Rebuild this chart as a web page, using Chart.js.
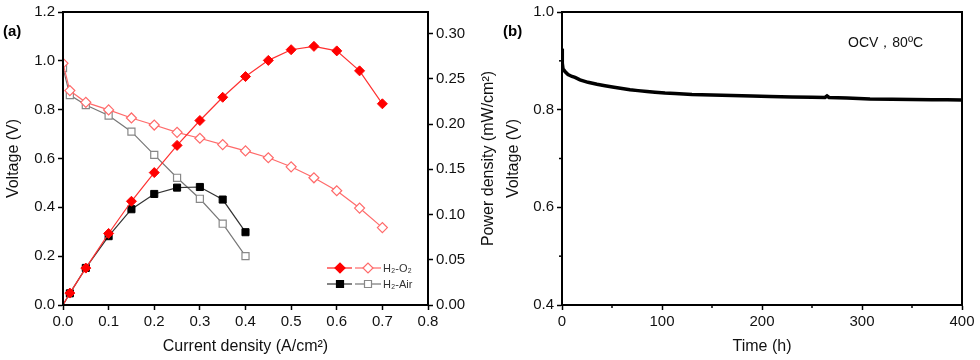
<!DOCTYPE html>
<html>
<head>
<meta charset="utf-8">
<script src="https://cdn.jsdelivr.net/npm/chart.js"></script>
<style>
  html, body { margin: 0; padding: 0; background: #fff; }
  #wrap { position: relative; width: 980px; height: 360px; overflow: hidden; }
  #polar { position: absolute; left: 0; top: 0; }
  #life { position: absolute; left: 500px; top: 0; }
</style>
</head>
<body>
<div id="wrap">
  <canvas id="polar" width="502" height="360"></canvas>
  <canvas id="life" width="480" height="360"></canvas>
</div>
<script>
// (a) polarization data, current density in A/cm2
var currentO2 = [0, 0.015, 0.05, 0.1, 0.15, 0.2, 0.25, 0.3, 0.35, 0.4, 0.45, 0.5, 0.55, 0.6, 0.65, 0.7];
var voltageO2 = [0.99, 0.878, 0.83, 0.799, 0.766, 0.737, 0.707, 0.683, 0.657, 0.631, 0.603, 0.566, 0.521, 0.468, 0.397, 0.317];
var powerO2 = [0, 0.0132, 0.0408, 0.0791, 0.1147, 0.1464, 0.1765, 0.204, 0.2297, 0.2526, 0.2705, 0.2823, 0.286, 0.281, 0.2589, 0.2225];

var currentAir = [0, 0.015, 0.05, 0.1, 0.15, 0.2, 0.25, 0.3, 0.35, 0.4];
var voltageAir = [0.97, 0.86, 0.819, 0.776, 0.71, 0.615, 0.521, 0.435, 0.333, 0.2];
var powerAir = [0, 0.0129, 0.041, 0.0761, 0.1059, 0.1228, 0.1298, 0.1305, 0.1166, 0.0805];

// (b) OCV hold, time in h
var timeH = [0, 0.3, 1, 3, 6, 10, 13, 18, 26, 35, 43, 52, 60, 68, 76, 85, 93, 103, 113, 130, 150, 170, 190, 208, 230, 250, 263, 265, 267, 285, 308, 330, 350, 370, 385, 400];
var ocvVoltage = [0.925, 0.895, 0.884, 0.878, 0.872, 0.868, 0.866, 0.861, 0.856, 0.852, 0.849, 0.846, 0.8435, 0.841, 0.839, 0.837, 0.8355, 0.834, 0.833, 0.831, 0.83, 0.829, 0.828, 0.827, 0.826, 0.8255, 0.825, 0.828, 0.825, 0.824, 0.822, 0.8215, 0.821, 0.8205, 0.8205, 0.82];

var xTicksB = [0, 100, 200, 300, 400];
var xMinorB = [50, 150, 250, 350];
var yMinorB = [0.5, 0.7, 0.9];

var FONT = 'Arial, "Liberation Sans", sans-serif';

function pts(xs, ys) {
    return xs.map(function (x, i) { return {x: x, y: ys[i]}; });
}

var axisGrid = {drawOnChartArea: false, drawTicks: true, tickLength: 5, color: '#000', tickColor: '#000', tickWidth: 1.5};
var axisBorder = {display: true, color: '#000', width: 2};
var tickFont = {family: FONT, size: 15};
var titleFont = {family: FONT, size: 16};

var framePlugin = {
    id: 'frame',
    afterDraw: function (chart) {
        var c = chart.ctx, a = chart.chartArea;
        c.save();
        c.strokeStyle = '#000';
        c.lineWidth = 2;
        c.strokeRect(a.left, a.top, a.right - a.left, a.bottom - a.top);
        c.restore();
    }
};

function marker(c, shape, x, y, fill, stroke) {
    c.beginPath();
    if (shape === 'diamond') {
        c.moveTo(x - 5, y); c.lineTo(x, y - 5); c.lineTo(x + 5, y); c.lineTo(x, y + 5); c.closePath();
    } else {
        c.rect(x - 3.5, y - 3.5, 7, 7);
    }
    c.fillStyle = fill; c.fill();
    c.lineWidth = 1.2; c.strokeStyle = stroke; c.stroke();
}

var legendA = {
    id: 'legendA',
    afterDraw: function (chart) {
        var c = chart.ctx, a = chart.chartArea;
        c.save();
        var rows = [
            {y: 268, shape: 'diamond', l1: '#ff2020', f1: '#ff0000', l2: '#ff6a6a', s2: '#ff6a6a', text: 'H\u2082-O\u2082'},
            {y: 284, shape: 'square', l1: '#333', f1: '#000', l2: '#777', s2: '#888', text: 'H\u2082-Air'}
        ];
        rows.forEach(function (r) {
            c.lineWidth = 1.2;
            c.strokeStyle = r.l1;
            c.beginPath(); c.moveTo(327, r.y); c.lineTo(352, r.y); c.stroke();
            c.strokeStyle = r.l2;
            c.beginPath(); c.moveTo(355, r.y); c.lineTo(381, r.y); c.stroke();
            marker(c, r.shape, 340, r.y, r.f1, r.f1);
            marker(c, r.shape, 368, r.y, '#fff', r.s2);
            c.fillStyle = '#333';
            c.font = '11px ' + FONT;
            c.textBaseline = 'middle';
            c.textAlign = 'left';
            c.fillText(r.text, 383, r.y + 1);
        });
        c.font = 'bold 15px ' + FONT;
        c.fillStyle = '#000';
        c.textBaseline = 'middle';
        c.fillText('(a)', 3, 32);
        // right axis title, read bottom to top like the left one
        c.translate(489, (a.top + a.bottom) / 2);
        c.rotate(-Math.PI / 2);
        c.font = '16px ' + FONT;
        c.fillStyle = '#111';
        c.textAlign = 'center';
        c.fillText('Power density (mW/cm\u00b2)', 0, 0);
        c.restore();
    }
};

var polarChart = new Chart(document.getElementById('polar'), {
    type: 'line',
    data: {
        datasets: [
            {
                data: pts(currentO2, powerO2), yAxisID: 'yP',
                borderColor: '#ff3030', borderWidth: 1.2, backgroundColor: '#ff0000',
                pointStyle: 'rectRot', pointRadius: function (ctx) { return ctx.dataIndex === 0 ? 0 : 5; },
                pointBorderColor: '#ff0000', pointBackgroundColor: '#ff0000', pointBorderWidth: 1
            },
            {
                data: pts(currentO2, voltageO2), yAxisID: 'y',
                borderColor: '#ff6a6a', borderWidth: 1.2,
                pointStyle: 'rectRot', pointRadius: 5,
                pointBorderColor: '#ff6a6a', pointBackgroundColor: '#fff', pointBorderWidth: 1.2
            },
            {
                data: pts(currentAir, powerAir), yAxisID: 'yP',
                borderColor: '#333', borderWidth: 1.2,
                pointStyle: 'rect', pointRadius: function (ctx) { return ctx.dataIndex === 0 ? 0 : 5; },
                pointBorderColor: '#000', pointBackgroundColor: '#000', pointBorderWidth: 1
            },
            {
                data: pts(currentAir, voltageAir), yAxisID: 'y',
                borderColor: '#777', borderWidth: 1.2,
                pointStyle: 'rect', pointRadius: 5,
                pointBorderColor: '#888', pointBackgroundColor: '#fff', pointBorderWidth: 1.2
            }
        ]
    },
    options: {
        responsive: false,
        devicePixelRatio: 1,
        animation: false,
        layout: {padding: {top: 11, left: 0, right: 0, bottom: 0}},
        plugins: {legend: {display: false}, tooltip: {enabled: false}},
        scales: {
            x: {
                type: 'linear', min: 0, max: 0.8,
                ticks: {stepSize: 0.1, color: '#111', font: tickFont, maxRotation: 0,
                    callback: function (v) { return v.toFixed(1); }},
                grid: axisGrid, border: axisBorder,
                title: {display: true, text: 'Current density (A/cm\u00b2)', color: '#111', font: titleFont},
                afterFit: function (s) { s.height = 55; }
            },
            y: {
                position: 'left', min: 0, max: 1.2,
                ticks: {stepSize: 0.2, color: '#111', font: tickFont,
                    callback: function (v) { return v.toFixed(1); }},
                grid: axisGrid, border: axisBorder,
                title: {display: true, text: 'Voltage (V)', color: '#111', font: titleFont},
                afterFit: function (s) { s.width = 63; }
            },
            yP: {
                position: 'right', min: 0, max: 0.324,
                ticks: {stepSize: 0.05, includeBounds: false, color: '#111', font: tickFont,
                    callback: function (v) { return v.toFixed(2); }},
                grid: axisGrid, border: axisBorder,
                afterFit: function (s) { s.width = 74; }
            }
        }
    },
    plugins: [framePlugin, legendA]
});

var extrasB = {
    id: 'extrasB',
    afterDraw: function (chart) {
        var c = chart.ctx, a = chart.chartArea;
        var xs = chart.scales.x, ys = chart.scales.y;
        c.save();
        c.strokeStyle = '#000';
        c.lineWidth = 1.5;
        xMinorB.forEach(function (v) {
            var px = xs.getPixelForValue(v);
            c.beginPath(); c.moveTo(px, a.bottom); c.lineTo(px, a.bottom + 3); c.stroke();
        });
        yMinorB.forEach(function (v) {
            var py = ys.getPixelForValue(v);
            c.beginPath(); c.moveTo(a.left, py); c.lineTo(a.left - 3, py); c.stroke();
        });
        c.fillStyle = '#000';
        c.font = 'bold 15px ' + FONT;
        c.textBaseline = 'middle';
        c.textAlign = 'left';
        c.fillText('(b)', 3, 32);
        c.font = '14px ' + FONT;
        c.fillStyle = '#111';
        c.fillText('OCV\uff0c80\u00baC', 348, 43);
        c.restore();
    }
};

var lifeChart = new Chart(document.getElementById('life'), {
    type: 'line',
    data: {
        datasets: [{
            data: pts(timeH, ocvVoltage),
            borderColor: '#000', borderWidth: 3.5, pointRadius: 0, tension: 0
        }]
    },
    options: {
        responsive: false,
        devicePixelRatio: 1,
        animation: false,
        layout: {padding: {top: 11, left: 0, right: 18, bottom: 0}},
        plugins: {legend: {display: false}, tooltip: {enabled: false}},
        scales: {
            x: {
                type: 'linear', min: 0, max: 400,
                afterBuildTicks: function (s) { s.ticks = xTicksB.map(function (v) { return {value: v}; }); },
                ticks: {color: '#111', font: tickFont, maxRotation: 0},
                grid: axisGrid, border: axisBorder,
                title: {display: true, text: 'Time (h)', color: '#111', font: titleFont},
                afterFit: function (s) { s.height = 55; }
            },
            y: {
                min: 0.4, max: 1.0,
                ticks: {stepSize: 0.2, color: '#111', font: tickFont,
                    callback: function (v) { return v.toFixed(1); }},
                grid: axisGrid, border: axisBorder,
                title: {display: true, text: 'Voltage (V)', color: '#111', font: titleFont},
                afterFit: function (s) { s.width = 62; }
            }
        }
    },
    plugins: [framePlugin, extrasB]
});
</script>
</body>
</html>
